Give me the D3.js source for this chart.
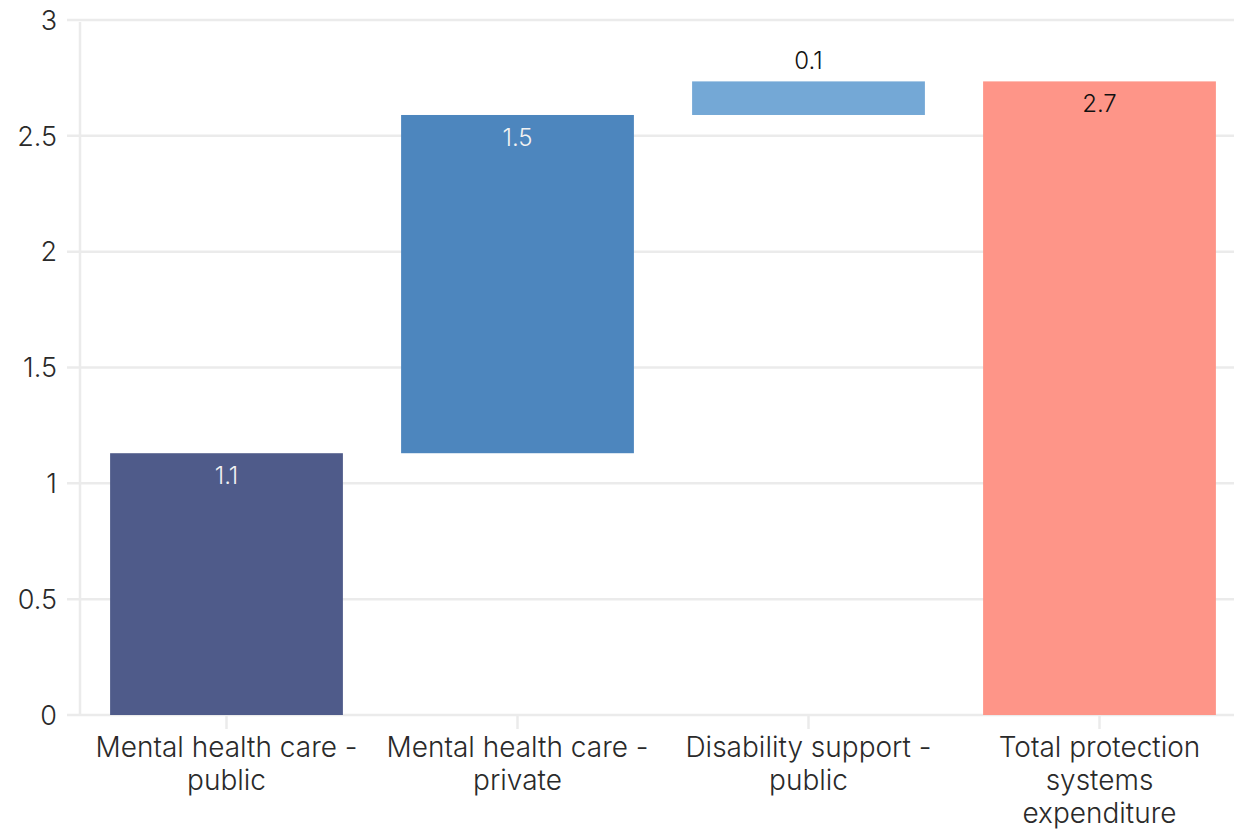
<!DOCTYPE html>
<html>
<head>
<meta charset="utf-8">
<script src="https://cdn.jsdelivr.net/npm/d3@7"></script>
<style>
  body { margin: 0; background: #fff; }
  svg { display: block; font-family: "Inter", "Liberation Sans", sans-serif; font-weight: 300; }
</style>
</head>
<body>
<svg id="chart" width="1234" height="829"></svg>
<script>
// data
var categories = [
  ["Mental health care -", "public"],
  ["Mental health care -", "private"],
  ["Disability support -", "public"],
  ["Total protection", "systems", "expenditure"]
];
var values = [1.13, 1.46, 0.145];
var valueLabels = ["1.1", "1.5", "0.1", "2.7"];
var barColors = ["#4f5b8a", "#4d86be", "#74a8d6", "#fe9588"];
var labelColors = ["#f2f2f2", "#f2f2f2", "#111", "#111"];
var yTicks = [0, 0.5, 1, 1.5, 2, 2.5, 3];

// build waterfall steps
var total = d3.sum(values);
var steps = [];
var run = 0;
values.forEach(function(v, i) {
  steps.push({ i: i, y0: run, y1: run + v });
  run += v;
});
steps.push({ i: 3, y0: 0, y1: total });

var svg = d3.select("#chart");

var x = d3.scaleBand()
    .domain(d3.range(categories.length))
    .range([81, 1245])
    .paddingInner(0.2)
    .paddingOuter(0.1);

var y = d3.scaleLinear()
    .domain([0, 3])
    .range([715, 20]);

// grid
svg.append("g")
  .selectAll("line")
  .data(yTicks)
  .enter().append("line")
    .attr("x1", 67)
    .attr("x2", 1234)
    .attr("y1", function(d) { return y(d); })
    .attr("y2", function(d) { return y(d); })
    .attr("stroke", "#ebebeb")
    .attr("stroke-width", 2.5);

// y axis line
svg.append("line")
    .attr("x1", 80).attr("x2", 80)
    .attr("y1", 22).attr("y2", 715)
    .attr("stroke", "#ebebeb")
    .attr("stroke-width", 2.5);

// y tick labels
svg.append("g")
  .selectAll("text")
  .data(yTicks)
  .enter().append("text")
    .attr("x", 57)
    .attr("y", function(d) { return y(d); })
    .attr("dy", "0.36em")
    .attr("text-anchor", "end")
    .attr("font-size", 27)
    .attr("fill", "#2a2a2a")
    .text(function(d) { return d; });

// x ticks
svg.append("g")
  .selectAll("line")
  .data(d3.range(categories.length))
  .enter().append("line")
    .attr("x1", function(d) { return x(d) + x.bandwidth() / 2; })
    .attr("x2", function(d) { return x(d) + x.bandwidth() / 2; })
    .attr("y1", 715)
    .attr("y2", 729)
    .attr("stroke", "#ebebeb")
    .attr("stroke-width", 2.5);

// bars
svg.append("g")
  .selectAll("rect")
  .data(steps)
  .enter().append("rect")
    .attr("x", function(d) { return x(d.i); })
    .attr("width", x.bandwidth())
    .attr("y", function(d) { return y(d.y1); })
    .attr("height", function(d) { return y(d.y0) - y(d.y1); })
    .attr("fill", function(d) { return barColors[d.i]; });

// value labels
svg.append("g")
  .selectAll("text")
  .data(steps)
  .enter().append("text")
    .attr("x", function(d) { return x(d.i) + x.bandwidth() / 2; })
    .attr("y", function(d) {
      var h = y(d.y0) - y(d.y1);
      return h < 50 ? y(d.y1) - 12 : y(d.y1) + 31;
    })
    .attr("text-anchor", "middle")
    .attr("font-size", 24)
    .attr("fill", function(d) { return labelColors[d.i]; })
    .text(function(d) { return valueLabels[d.i]; });

// category labels
var cat = svg.append("g")
  .selectAll("text")
  .data(categories)
  .enter().append("text")
    .attr("x", function(d, i) { return x(i) + x.bandwidth() / 2; })
    .attr("y", 757)
    .attr("text-anchor", "middle")
    .attr("font-size", 28)
    .attr("fill", "#2a2a2a");

cat.selectAll("tspan")
  .data(function(d) { return d; })
  .enter().append("tspan")
    .attr("x", function() { return d3.select(this.parentNode).attr("x"); })
    .attr("dy", function(d, j) { return j === 0 ? 0 : 33; })
    .text(function(d) { return d; });
</script>
</body>
</html>
